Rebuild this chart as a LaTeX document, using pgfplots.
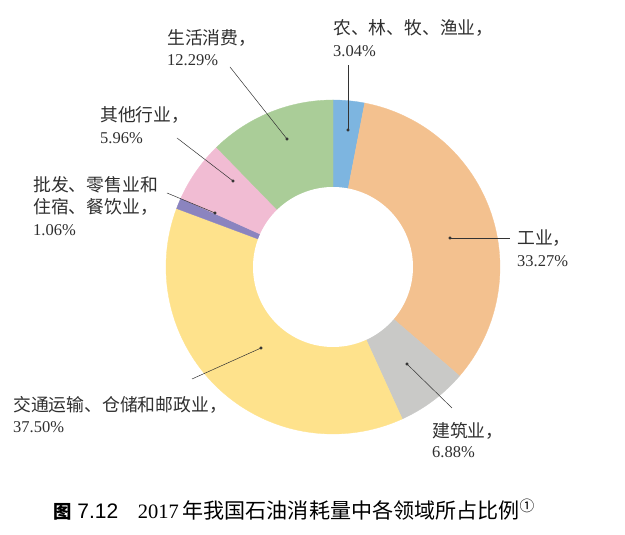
\documentclass[border=0pt]{standalone}
\usepackage{pgfplots}
\usepackage{pgfplotstable}
\pgfplotsset{compat=1.18}
\usepackage{fontspec}
\setmainfont{Liberation Serif}
\setsansfont{Liberation Sans}
\newfontfamily\cjk[Scale=1.08]{Noto Sans CJK SC}
\definecolor{c0}{HTML}{7DB5E0}
\definecolor{c1}{HTML}{F3C18F}
\definecolor{c2}{HTML}{C9C9C7}
\definecolor{c3}{HTML}{FEE28C}
\definecolor{c4}{HTML}{8B84BF}
\definecolor{c5}{HTML}{F1BCD3}
\definecolor{c6}{HTML}{AACD98}
\definecolor{txt}{HTML}{2F2F2F}
% shares, clockwise from 12 o'clock
\pgfplotstableread{
name pct
agri 3.04
industry 33.27
construction 6.88
transport 37.50
trade 1.06
other 5.96
household 12.29
}\datatable
\begin{document}
\begin{tikzpicture}
\begin{axis}[scale only axis, width=625pt, height=535pt,
  xmin=0, xmax=625, ymin=0, ymax=535, hide axis, clip=false]
\path (axis cs:0,0) rectangle (axis cs:625,535);
\def\cum{0}
\pgfplotsforeachungrouped \i in {0,...,6}{%
  \pgfplotstablegetelem{\i}{pct}\of\datatable
  \let\p\pgfplotsretval
  \pgfmathsetmacro\angA{90-3.6*\cum}%
  \pgfmathsetmacro\angB{90-3.6*(\cum+\p)}%
  \pgfmathsetmacro\cum{\cum+\p}%
  \edef\tmp{\noexpand\addplot[fill=c\i, draw=c\i, line width=0.3pt, domain=\angB:\angA, samples=90]
    ({333+167*cos(x)},{268+167*sin(x)}) -- (axis cs:333,268) -- cycle;}%
  \tmp
}
\addplot[fill=white, draw=none, domain=0:360, samples=150] ({333+80*cos(x)},{268+80*sin(x)}) -- cycle;
% leader lines
\addplot[black!80, line width=0.5pt, mark=*, mark size=1.3pt, mark indices={1}] coordinates {(348,405) (348,470)};
\addplot[black!80, line width=0.5pt, mark=*, mark size=1.3pt, mark indices={1}] coordinates {(287,396) (230,468)};
\addplot[black!80, line width=0.5pt, mark=*, mark size=1.3pt, mark indices={1}] coordinates {(233,354) (177,397)};
\addplot[black!80, line width=0.5pt, mark=*, mark size=1.3pt, mark indices={1}] coordinates {(215,322) (167,342)};
\addplot[black!80, line width=0.5pt, mark=*, mark size=1.3pt, mark indices={1}] coordinates {(261,187) (192,156)};
\addplot[black!80, line width=0.5pt, mark=*, mark size=1.3pt, mark indices={1}] coordinates {(450,297) (510,297)};
\addplot[black!80, line width=0.5pt, mark=*, mark size=1.3pt, mark indices={1}] coordinates {(407,171) (452,127)};
% labels
\tikzset{lab/.style={anchor=base west, inner sep=0pt, text=txt, font=\fontsize{16.5}{20}\selectfont}}
\node[lab] at (axis cs:333,500) {\cjk 农、林、牧、渔业，};
\node[lab] at (axis cs:333,478) {3.04\%};
\node[lab] at (axis cs:167,490) {\cjk 生活消费，};
\node[lab] at (axis cs:167,469) {12.29\%};
\node[lab] at (axis cs:100,413) {\cjk 其他行业，};
\node[lab] at (axis cs:100,391) {5.96\%};
\node[lab] at (axis cs:33,343) {\cjk 批发、零售业和};
\node[lab] at (axis cs:33,321) {\cjk 住宿、餐饮业，};
\node[lab] at (axis cs:33,299) {1.06\%};
\node[lab] at (axis cs:13,123) {\cjk 交通运输、仓储和邮政业，};
\node[lab] at (axis cs:13,102) {37.50\%};
\node[lab] at (axis cs:517,290) {\cjk 工业，};
\node[lab] at (axis cs:517,268) {33.27\%};
\node[lab] at (axis cs:432,97) {\cjk 建筑业，};
\node[lab] at (axis cs:432,77) {6.88\%};
% caption
\node[anchor=base west, inner sep=0pt, text=black, font=\fontsize{19.5}{24}\selectfont] at (axis cs:53,16)
  {{\cjk\bfseries\fontsize{17}{20}\selectfont 图}\hspace{0.3em}{\sffamily\fontsize{21}{24}\selectfont 7.12}\hspace{1em}{\fontsize{20.5}{24}\selectfont 2017}\hspace{0.2em}{\cjk 年我国石油消耗量中各领域所占比例}\textsuperscript{\cjk ①}};
\end{axis}
\end{tikzpicture}
\end{document}
